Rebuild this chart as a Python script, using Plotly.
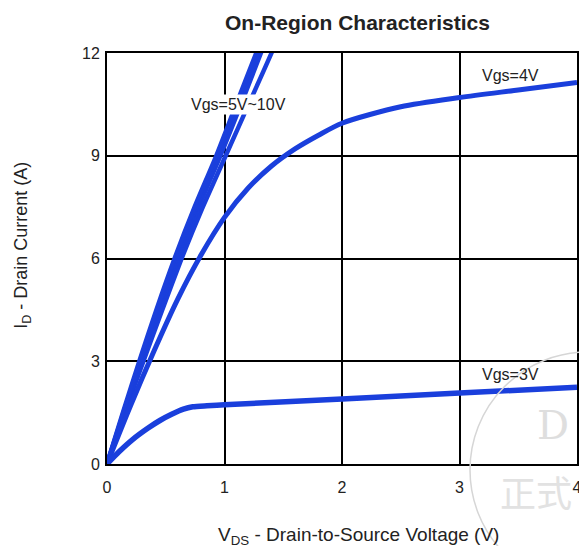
import plotly.graph_objects as go

# ---- data ----
# Vgs = 5V..10V family: Vds values at these drain currents
id_on = [0, 1.5, 3, 4.5, 6, 7.5, 9, 10.5, 12, 12.8]
vds_10v = [0, 0.135, 0.275, 0.42, 0.575, 0.745, 0.93, 1.10, 1.27, 1.36]
vds_8v = [0, 0.14, 0.285, 0.43, 0.59, 0.76, 0.945, 1.12, 1.29, 1.38]
vds_6v = [0, 0.145, 0.295, 0.445, 0.605, 0.78, 0.965, 1.14, 1.31, 1.40]
vds_5v = [0, 0.15, 0.31, 0.47, 0.635, 0.815, 1.01, 1.205, 1.40, 1.49]

# Vgs = 4V
vds_4v = [0, 0.2, 0.4, 0.6, 0.8, 1.0, 1.2, 1.4, 1.6, 1.8, 2.0, 2.5, 3.0, 3.5, 4.0]
id_4v = [0, 1.7, 3.3, 4.8, 6.1, 7.2, 8.05, 8.7, 9.2, 9.6, 9.95, 10.43, 10.7, 10.92, 11.14]

# Vgs = 3V
vds_3v = [0, 0.1, 0.22, 0.35, 0.45, 0.55, 0.65, 0.73, 0.85, 1.0, 2.0, 3.0, 4.0]
id_3v = [0, 0.35, 0.72, 1.05, 1.27, 1.45, 1.6, 1.67, 1.7, 1.73, 1.9, 2.07, 2.24]

x_ticks = [0, 1, 2, 3, 4]
y_ticks = [0, 3, 6, 9, 12]

title_text = "On-Region Characteristics"
x_title = "V<sub>DS</sub> - Drain-to-Source Voltage (V)"
y_title = "I<sub>D</sub> - Drain Current (A)"

BLUE = "#1a3fdc"
FONT = "Liberation Sans, Arial, sans-serif"

fig = go.Figure()

for vx in (vds_5v, vds_6v, vds_8v, vds_10v):
    fig.add_trace(go.Scatter(x=vx, y=id_on, mode="lines",
                             line=dict(color=BLUE, width=4.5, shape="spline", smoothing=0.6),
                             hoverinfo="skip", showlegend=False))

fig.add_trace(go.Scatter(x=vds_4v, y=id_4v, mode="lines",
                         line=dict(color=BLUE, width=5, shape="spline", smoothing=0.8),
                         hoverinfo="skip", showlegend=False))
fig.add_trace(go.Scatter(x=vds_3v, y=id_3v, mode="lines",
                         line=dict(color=BLUE, width=5.5, shape="spline", smoothing=0.6),
                         hoverinfo="skip", showlegend=False))

axis_common = dict(showgrid=True, gridcolor="black", gridwidth=2,
                   showline=True, linecolor="black", linewidth=2, mirror=True,
                   zeroline=False, ticks="", ticklabeloverflow="allow", automargin=False,
                   tickfont=dict(family=FONT, size=16, color="#222"))

fig.update_xaxes(range=[0, 4], tickvals=x_ticks, ticktext=[str(v) for v in x_ticks],
                 ticklabelstandoff=8, **axis_common)
fig.update_yaxes(range=[0, 12], tickvals=y_ticks, ticktext=[str(v) for v in y_ticks],
                 ticklabelstandoff=2, **axis_common)

C = dict(xanchor="center", yanchor="middle", showarrow=False)
annotations = [
    dict(text="<b>" + title_text + "</b>", x=0.532, y=1.075, xref="paper", yref="paper",
         font=dict(family=FONT, size=21, color="#222"), **C),
    dict(text=x_title, x=0.536, y=-0.176, xref="paper", yref="paper",
         font=dict(family=FONT, size=19, color="#222"), **C),
    dict(text=y_title, x=-0.179, y=0.533, xref="paper", yref="paper", textangle=-90,
         font=dict(family=FONT, size=18, color="#222"), **C),
    dict(text="Vgs=5V~10V", x=1.115, y=10.5, xref="x", yref="y",
         bgcolor="white", borderpad=1, font=dict(family=FONT, size=16, color="#222"), **C),
    dict(text="Vgs=4V", x=3.43, y=11.34, xref="x", yref="y",
         font=dict(family=FONT, size=16, color="#222"), **C),
    dict(text="Vgs=3V", x=3.43, y=2.6, xref="x", yref="y",
         font=dict(family=FONT, size=16, color="#222"), **C),
    # faint watermark
    dict(text="D", x=(553 - 107) / 470, y=(464 - 425) / 411, xref="paper", yref="paper",
         font=dict(family="DejaVu Serif, serif", size=40, color="#dedede"), **C),
    dict(text="正式", x=(536 - 107) / 470, y=(464 - 491) / 411, xref="paper", yref="paper",
         font=dict(family="Noto Sans CJK SC", size=36, color="#e2e2e2"), **C),
]

fig.update_layout(
    width=579, height=546,
    margin=dict(l=107, r=2, t=53, b=82, autoexpand=False),
    paper_bgcolor="white", plot_bgcolor="white",
    annotations=annotations,
    shapes=[dict(type="circle", xref="paper", yref="paper",
                 x0=(470 - 107) / 470, x1=(706 - 107) / 470,
                 y0=(464 - 588) / 411, y1=(464 - 352) / 411,
                 line=dict(color="#d6d6d6", width=1.5), layer="above")],
)

fig.write_html("out.html", config={"displayModeBar": False},
               post_script="document.body.style.margin='0';document.body.style.overflow='hidden';")
